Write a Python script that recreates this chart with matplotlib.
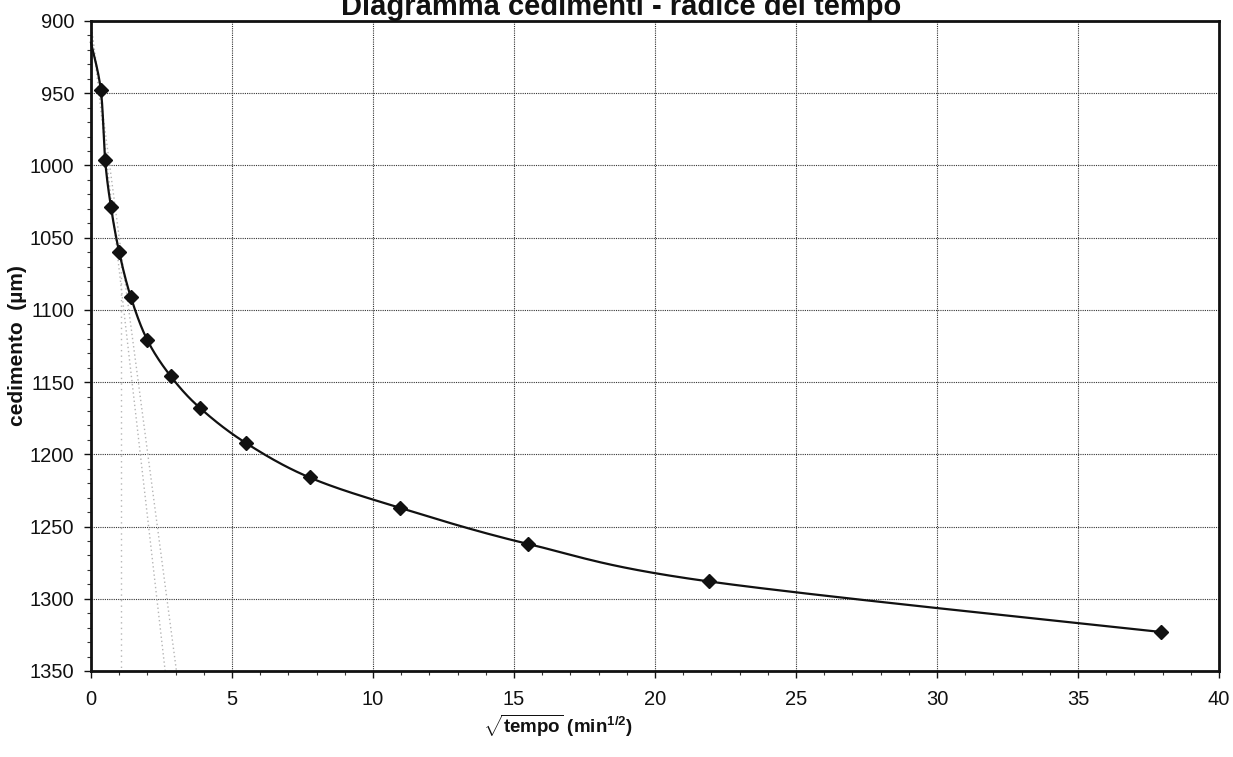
import numpy as np
import matplotlib
matplotlib.use('Agg')
from matplotlib import pyplot as plt
from matplotlib.ticker import MultipleLocator

plt.rcParams['font.family'] = ['Liberation Sans', 'DejaVu Sans']
plt.rcParams['mathtext.fontset'] = 'custom'
plt.rcParams['mathtext.rm'] = 'Liberation Sans'
plt.rcParams['mathtext.bf'] = 'Liberation Sans:bold'

# square root of elapsed time (min^1/2) and settlement (um)
sqrt_t = [0.35, 0.5, 0.71, 1.0, 1.41, 2.0, 2.83, 3.87, 5.48, 7.75,
          10.95, 15.49, 21.91, 37.95]
cedimento = [948, 996, 1029, 1060, 1091, 1121, 1146, 1168, 1192, 1216,
             1237, 1262, 1288, 1323]
# start of the curve at t = 0
x_start, y_start = 0.0, 915

# Taylor construction: corrected zero, tangent and 1.15x line, t90 reading
zero_corr = 902
x_tangent_end = 2.63
x_115_end = 3.03
x_t90, y_t90 = 1.08, 1062

title = 'Diagramma cedimenti - radice del tempo'
ylabel = 'cedimento  (\u00b5m)'


def smooth(xs, ys, sx, sy, n=30):
    # Catmull-Rom style bezier through the points, done in screen units
    px = np.asarray(xs) * sx
    py = np.asarray(ys) * sy
    p = np.column_stack([px, py])
    p = np.vstack([p[0], p, p[-1]])
    out = []
    t = np.linspace(0, 1, n)[:, None]
    for i in range(1, len(p) - 2):
        p0, p1, p2, p3 = p[i - 1], p[i], p[i + 1], p[i + 2]
        c1 = p1 + (p2 - p0) / 6
        c2 = p2 - (p3 - p1) / 6
        seg = ((1 - t) ** 3 * p1 + 3 * (1 - t) ** 2 * t * c1
               + 3 * (1 - t) * t ** 2 * c2 + t ** 3 * p2)
        out.append(seg if i == 1 else seg[1:])
    out = np.vstack(out)
    return out[:, 0] / sx, out[:, 1] / sy


fig = plt.figure(figsize=(12.33, 7.57), dpi=100)
ax = fig.add_axes([91 / 1233, 1 - 671 / 757, 1128 / 1233, 650 / 757])

# construction lines
ax.plot([0, x_tangent_end], [zero_corr, 1350], color='#b5b5b5', lw=1,
        ls=(0, (1, 2)), zorder=2)
ax.plot([0, x_115_end], [zero_corr, 1350], color='#b5b5b5', lw=1,
        ls=(0, (1, 2)), zorder=2)
ax.plot([x_t90, x_t90], [y_t90, 1350], color='#b5b5b5', lw=1,
        ls=(0, (1, 3)), zorder=2)

xs, ys = smooth([x_start] + sqrt_t, [y_start] + cedimento, 28.2, 1.445)
ax.plot(xs, ys, color='#111111', lw=1.6, zorder=3, clip_on=False)
ax.plot(sqrt_t, cedimento, ls='none', marker='D', ms=7.5,
        color='#111111', zorder=4)

ax.set_xlim(0, 40)
ax.set_ylim(1350, 900)
ax.xaxis.set_major_locator(MultipleLocator(5))
ax.xaxis.set_minor_locator(MultipleLocator(1))
ax.yaxis.set_major_locator(MultipleLocator(50))
ax.yaxis.set_minor_locator(MultipleLocator(10))
ax.grid(True, which='major', color='#333333', lw=0.8, ls=(0, (1, 1)))
ax.set_axisbelow(True)
for sp in ax.spines.values():
    sp.set_linewidth(2)
    sp.set_color('#111111')
ax.tick_params(which='major', direction='out', length=5, width=1,
               labelsize=14.5, colors='#111111')
ax.tick_params(axis='x', which='major', pad=9)
ax.tick_params(axis='y', which='major', pad=7)
ax.tick_params(which='minor', direction='out', length=3, width=0.8,
               colors='#333333')

fig.text(621 / 1233, 1 - 15 / 757, title, ha='center', va='baseline',
         fontsize=21, fontweight='bold', color='#111111')
fig.text(18 / 1233, 1 - 346 / 757, ylabel, rotation=90, ha='center',
         va='center', fontsize=15, fontweight='bold', color='#111111')
fig.text(558 / 1233, 1 - 726 / 757,
         r'$\sqrt{\mathbf{tempo}}$ ' + r'$\mathbf{(min^{1/2})}$',
         ha='center', va='center', fontsize=13.5, color='#111111')

fig.savefig('out.png', dpi=100)
